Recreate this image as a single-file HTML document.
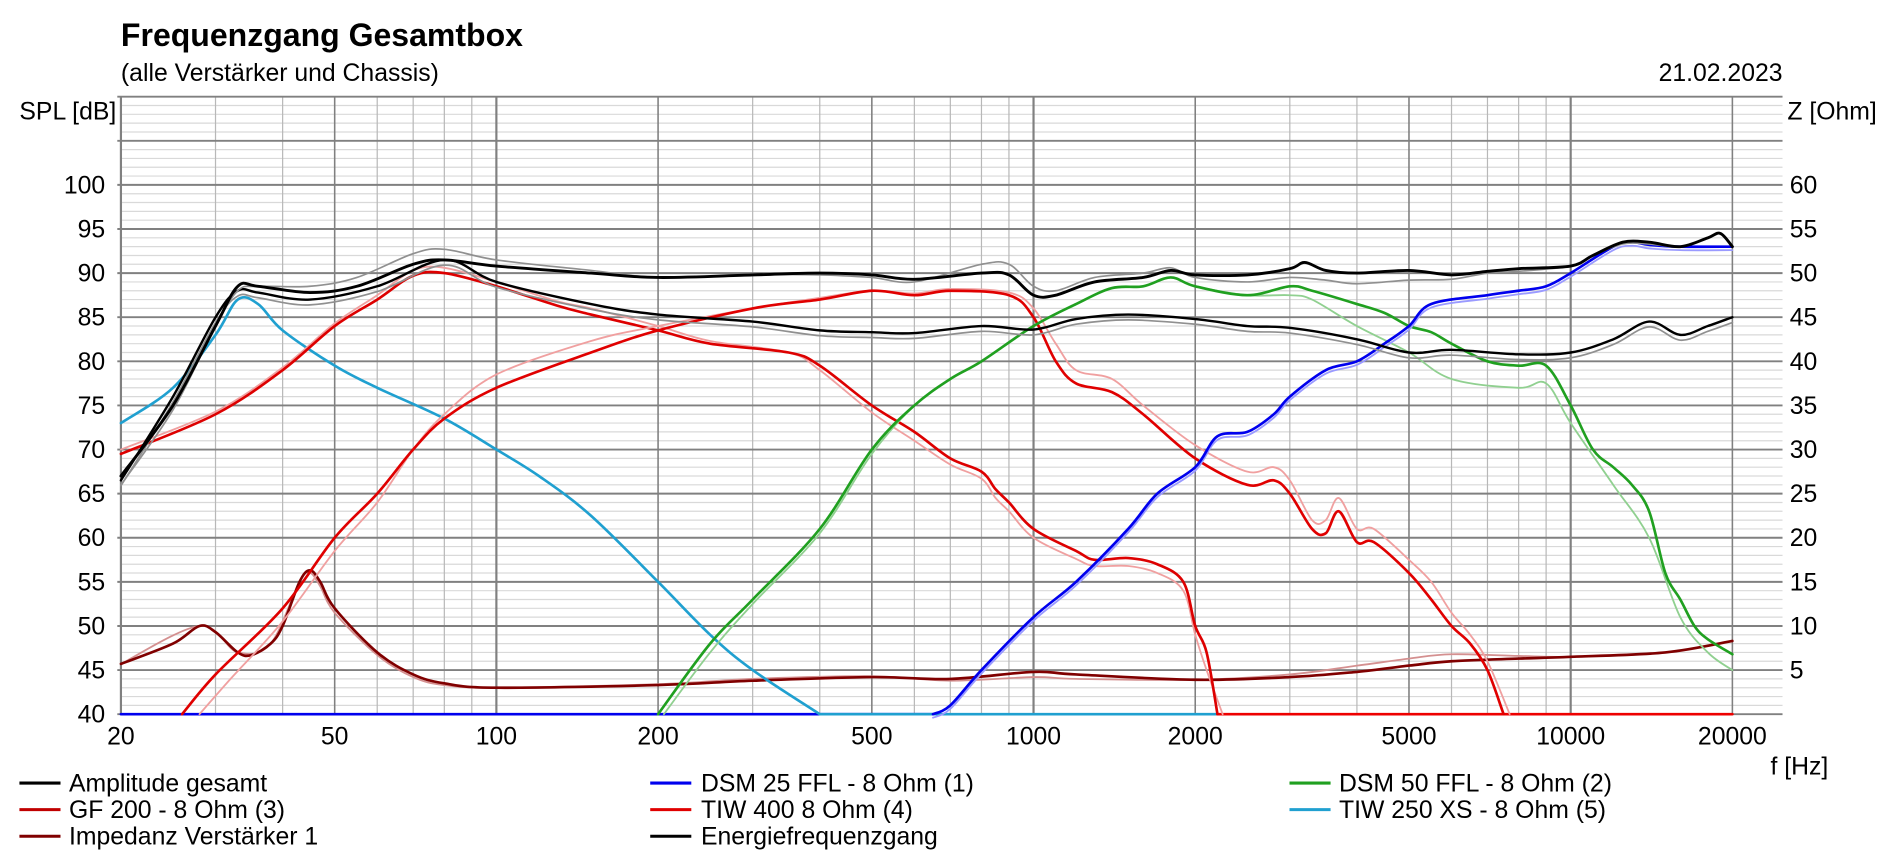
<!DOCTYPE html>
<html><head><meta charset="utf-8">
<style>
html,body{margin:0;padding:0;background:#fff;}
svg{display:block;}
text{font-family:"Liberation Sans","DejaVu Sans",sans-serif;fill:#000;}
</style></head>
<body>
<svg id="c" width="1895" height="865" viewBox="0 0 1568 715.8" xmlns="http://www.w3.org/2000/svg">
<rect x="0" y="0" width="1568" height="716" fill="#fff"/>
<g id="grid"></g>
<g id="curves" fill="none" stroke-linejoin="round" stroke-linecap="round"></g>
<text x="100" y="38" font-size="26.5" font-weight="bold">Frequenzgang Gesamtbox</text>
<text x="100" y="67" font-size="20.5">(alle Verstärker und Chassis)</text>
<text x="1475" y="67" font-size="20.5" text-anchor="end">21.02.2023</text>
<text x="16" y="99" font-size="20.5">SPL [dB]</text>
<text x="1479" y="99" font-size="20.5">Z [Ohm]</text>
<text x="1465" y="641" font-size="20.5">f [Hz]</text>
<g id="labels" font-size="20.5"></g>
<g font-size="20.5">
<line x1="16" y1="648" x2="50" y2="648" stroke="#000" stroke-width="2.5"/><text x="57" y="655">Amplitude gesamt</text>
<line x1="16" y1="670" x2="50" y2="670" stroke="#c00000" stroke-width="2.5"/><text x="57" y="677">GF 200 - 8 Ohm (3)</text>
<line x1="16" y1="692" x2="50" y2="692" stroke="#800000" stroke-width="2.5"/><text x="57" y="699">Impedanz Verstärker 1</text>
<line x1="538" y1="648" x2="572" y2="648" stroke="#0000ee" stroke-width="2.5"/><text x="580" y="655">DSM 25 FFL - 8 Ohm (1)</text>
<line x1="538" y1="670" x2="572" y2="670" stroke="#e00000" stroke-width="2.5"/><text x="580" y="677">TIW 400 8 Ohm (4)</text>
<line x1="538" y1="692" x2="572" y2="692" stroke="#000" stroke-width="2.5"/><text x="580" y="699">Energiefrequenzgang</text>
<line x1="1067" y1="648" x2="1101" y2="648" stroke="#20a020" stroke-width="2.5"/><text x="1108" y="655">DSM 50 FFL - 8 Ohm (2)</text>
<line x1="1067" y1="670" x2="1101" y2="670" stroke="#20a0d0" stroke-width="2.5"/><text x="1108" y="677">TIW 250 XS - 8 Ohm (5)</text>
</g>
</svg>
<script>
var NS="http://www.w3.org/2000/svg";
function X(f){return 100+444.5*Math.log10(f/20);}
function Y(d){return 153+(100-d)*7.3;}
function el(p,t,a){var e=document.createElementNS(NS,t);for(var k in a)e.setAttribute(k,a[k]);p.appendChild(e);return e;}
var g=document.getElementById('grid');
var L=100,R=1475,T=80,B=591;
for(var d=40;d<=110;d++){if(d%5==0)continue;el(g,'line',{x1:L,x2:R,y1:Y(d),y2:Y(d),stroke:'#d9d9d9','stroke-width':1});}
var minors=[30,40,60,70,80,90,300,400,600,700,800,900,3000,4000,6000,7000,8000,9000];
minors.forEach(function(f){el(g,'line',{x1:X(f),x2:X(f),y1:T,y2:B,stroke:'#b8b8b8','stroke-width':1});});
[20,50,100,200,500,1000,2000,5000,10000,20000].forEach(function(f){el(g,'line',{x1:X(f),x2:X(f),y1:T,y2:B,stroke:'#808080','stroke-width':(f==100||f==1000||f==10000||f==20)?1.8:1.3});});
for(var d=40;d<=110;d+=5){el(g,'line',{x1:L-3,x2:R,y1:Y(d),y2:Y(d),stroke:'#808080','stroke-width':1.6});}
var lb=document.getElementById('labels');
for(var d=40;d<=100;d+=5){var t=el(lb,'text',{x:87,y:Y(d)+7,'text-anchor':'end'});t.textContent=d;
 if(d>=45){var t2=el(lb,'text',{x:1481,y:Y(d)+7});t2.textContent=d-40;}}
[20,50,100,200,500,1000,2000,5000,10000,20000].forEach(function(f){var t=el(lb,'text',{x:X(f),y:616,'text-anchor':'middle'});t.textContent=f;});
var cv=document.getElementById('curves');
function path(pts,col,w){
 var P=pts.map(function(p){return [X(p[0]),Y(p[1])];});
 var s='M'+P[0][0].toFixed(1)+','+P[0][1].toFixed(1);
 for(var i=0;i<P.length-1;i++){
  var p0=P[Math.max(0,i-1)],p1=P[i],p2=P[i+1],p3=P[Math.min(P.length-1,i+2)];
  var c1=[p1[0]+(p2[0]-p0[0])/6,p1[1]+(p2[1]-p0[1])/6],c2=[p2[0]-(p3[0]-p1[0])/6,p2[1]-(p3[1]-p1[1])/6];
  s+='C'+c1[0].toFixed(1)+','+c1[1].toFixed(1)+' '+c2[0].toFixed(1)+','+c2[1].toFixed(1)+' '+p2[0].toFixed(1)+','+p2[1].toFixed(1);
 }
 el(cv,'path',{d:s,stroke:col,'stroke-width':w});
}
function sh(pts,dx,dd){return pts.map(function(p){return [p[0]*dx,p[1]+dd];});}
path([[20,40],[650,40]],'#0000ee',2.2);
path([[400,40],[2200,40]],'#20a0d0',2.2);
path([[2200,40],[20000,40]],'#ee0000',2.2);
var imp=[[20,45.7],[25,48],[28,50],[30,49.3],[33,47],[35,46.7],[38,48],[40,50],[43,55],[45,56.3],[47,55],[50,52],[60,47],[70,44.5],[80,43.5],[100,43],[200,43.3],[300,43.8],[500,44.2],[700,44],[1000,44.8],[1200,44.5],[2000,43.9],[3000,44.2],[4000,44.8],[5000,45.5],[6000,46],[8000,46.3],[10000,46.5],[15000,47],[20000,48.3]];
var impL=[[20,45.7],[28,50],[33,47],[38,48],[43,55],[45,56],[47,54.5],[50,51.5],[60,46.7],[70,44.2],[80,43.3],[100,43],[200,43.4],[300,44],[500,44.3],[700,43.8],[1000,44.2],[1200,44],[2000,43.9],[3000,44.5],[4000,45.5],[5000,46.3],[6000,46.8],[8000,46.6],[10000,46.5],[15000,47],[20000,48.3]];
path(impL,'#d49090',1.5);path(imp,'#800000',2.2);
path([[20,73],[25,77],[30,83],[33,87],[36,86.5],[40,83.5],[50,79.5],[60,77],[80,73.5],[100,70],[120,67],[150,62.5],[200,55],[250,49],[300,45],[400,40]],'#20a0d0',2.2);
var gf=[[20,69.5],[30,74],[40,79],[50,84],[60,87],[70,89.7],[80,90],[100,88.5],[130,86.3],[150,85.3],[200,83.5],[250,82],[350,81],[400,79.5],[500,75],[600,72],[700,69],[800,67.5],[850,65.5],[900,64],[1000,61],[1200,58.5],[1300,57.5],[1500,57.7],[1700,57],[1900,55],[2000,50],[2100,47],[2200,40]];
var gfL=[[20,70],[30,74.3],[40,79.3],[50,84.3],[60,87.5],[70,90.3],[80,90.6],[100,89],[130,86.8],[150,86],[200,84],[250,82.3],[350,81],[400,79],[500,74.2],[600,71],[700,68.3],[800,66.7],[850,64.5],[900,63],[1000,60],[1200,57.6],[1300,56.8],[1500,56.8],[1700,56],[1900,54],[2000,49],[2100,45],[2250,40]];
path(gfL,'#f0a0a0',1.5);path(gf,'#dd0000',2.2);
var tw=[[26,40],[30,44.5],[40,52],[50,60],[60,65],[70,70],[80,73.5],[100,77],[150,81],[200,83.5],[300,86],[400,87],[500,88],[600,87.5],[700,88],[900,87.5],[1000,85],[1100,80],[1200,77.5],[1400,76.5],[1600,74],[2000,69],[2500,66],[2800,66.5],[3000,65],[3300,61],[3500,60.5],[3700,63],[4000,59.5],[4300,59.5],[5000,56],[5500,53],[6000,50],[6500,48],[7000,45],[7500,40]];
var twL=[[28,40],[32,44],[40,50.5],[50,58.5],[60,64],[70,70],[80,74],[100,78.5],[150,82.3],[200,84],[300,86],[400,87.2],[500,88],[600,87.7],[700,88.2],[900,87.8],[1000,86],[1100,82],[1200,79],[1400,78],[1600,75],[2000,70.5],[2500,67.5],[2800,68],[3000,66.5],[3300,62],[3500,62],[3700,64.5],[4000,61],[4300,61],[5000,57.5],[5500,55],[6000,51.5],[6500,49],[7000,46],[7700,40]];
path(twL,'#f0a0a0',1.5);path(tw,'#e00000',2.2);
var gr=[[200,40],[250,48],[300,53],[400,61],[500,70],[600,75],[700,78],[800,80],[1000,84],[1200,86.5],[1400,88.3],[1600,88.5],[1800,89.5],[2000,88.5],[2500,87.5],[3000,88.5],[3300,88],[4000,86.5],[4500,85.5],[5000,84],[5500,83.3],[6000,82],[7000,80],[8000,79.5],[9000,79.5],[10000,75],[11000,70],[12000,68],[13000,66],[14000,63],[15000,56],[16000,53],[17000,50],[18000,48.5],[20000,46.8]];
var grL=[[205,40],[250,47],[300,52.5],[400,60.5],[500,69.5],[600,75],[700,78],[800,80],[1000,84],[1200,86.5],[1400,88.3],[1600,88.5],[1800,89.5],[2000,88.5],[2500,87.5],[3000,87.5],[3300,87],[4000,84],[5000,81],[6000,78],[8000,77],[9000,77.5],[10000,73],[12000,66],[14000,60],[16000,51],[18000,47],[20000,45]];
path(grL,'#90d090',1.5);path(gr,'#20a020',2.2);
var bl=[[650,40],[700,41],[800,45],[1000,51],[1200,55],[1500,61],[1700,65],[2000,68],[2200,71.5],[2500,72],[2800,74],[3000,76],[3500,79],[4000,80],[4500,82],[5000,84],[5500,86.5],[7000,87.5],[8000,88],[9000,88.5],[10000,90],[12000,93],[13000,93.5],[14000,93.2],[16000,93],[20000,93]];
path(sh(bl,1,-0.4),'#9a9aff',1.5);path(bl,'#0000ee',2.2);
var en=[[20,66.5],[25,76],[30,85],[33,88],[36,87.8],[45,87],[60,88.5],[80,91.5],[100,89],[150,86.5],[200,85.3],[300,84.5],[400,83.5],[500,83.3],[600,83.2],[800,84],[1000,83.6],[1200,84.8],[1500,85.3],[2000,84.8],[2500,84],[3000,83.8],[4000,82.5],[5000,81],[6000,81.3],[8000,80.8],[10000,81],[12000,82.5],[14000,84.5],[16000,83],[18000,84],[20000,85]];
path(sh(en,1,-0.6),'#909090',1.4);path(en,'#000',2);
var am=[[20,67],[25,75],[30,84],[33,88.5],[36,88.5],[45,87.8],[55,88.5],[70,91],[80,91.5],[100,90.8],[150,90],[200,89.5],[300,89.8],[400,90],[500,89.8],[600,89.3],[800,90],[900,89.8],[1000,87.5],[1100,87.5],[1300,89],[1600,89.5],[1800,90.3],[2000,89.8],[2500,89.8],[3000,90.5],[3200,91.2],[3500,90.3],[4000,90],[5000,90.3],[6000,89.8],[7000,90.2],[8000,90.5],[10000,90.8],[11000,92],[12500,93.5],[14000,93.5],[16000,93],[18000,94],[19000,94.5],[20000,93]];
var amG=[[20,66],[25,74.5],[30,84],[33,88],[36,88.5],[45,88.5],[55,89.5],[70,92.2],[80,92.7],[100,91.5],[150,90.3],[200,89.5],[300,89.8],[400,89.8],[500,89.5],[600,89],[800,91],[900,91],[1000,88.5],[1100,88],[1300,89.5],[1600,90],[1800,90.6],[2000,89.5],[2500,89],[3000,89.5],[3500,89.2],[4000,88.8],[5000,89.2],[6000,89.3],[7000,90],[8000,90.2],[10000,90.8],[11000,92],[12500,93.3],[14000,93.3],[16000,93],[18000,94],[19000,94.5],[20000,93]];
path(amG,'#909090',1.4);path(am,'#000',2.4);
</script>
</body></html>
